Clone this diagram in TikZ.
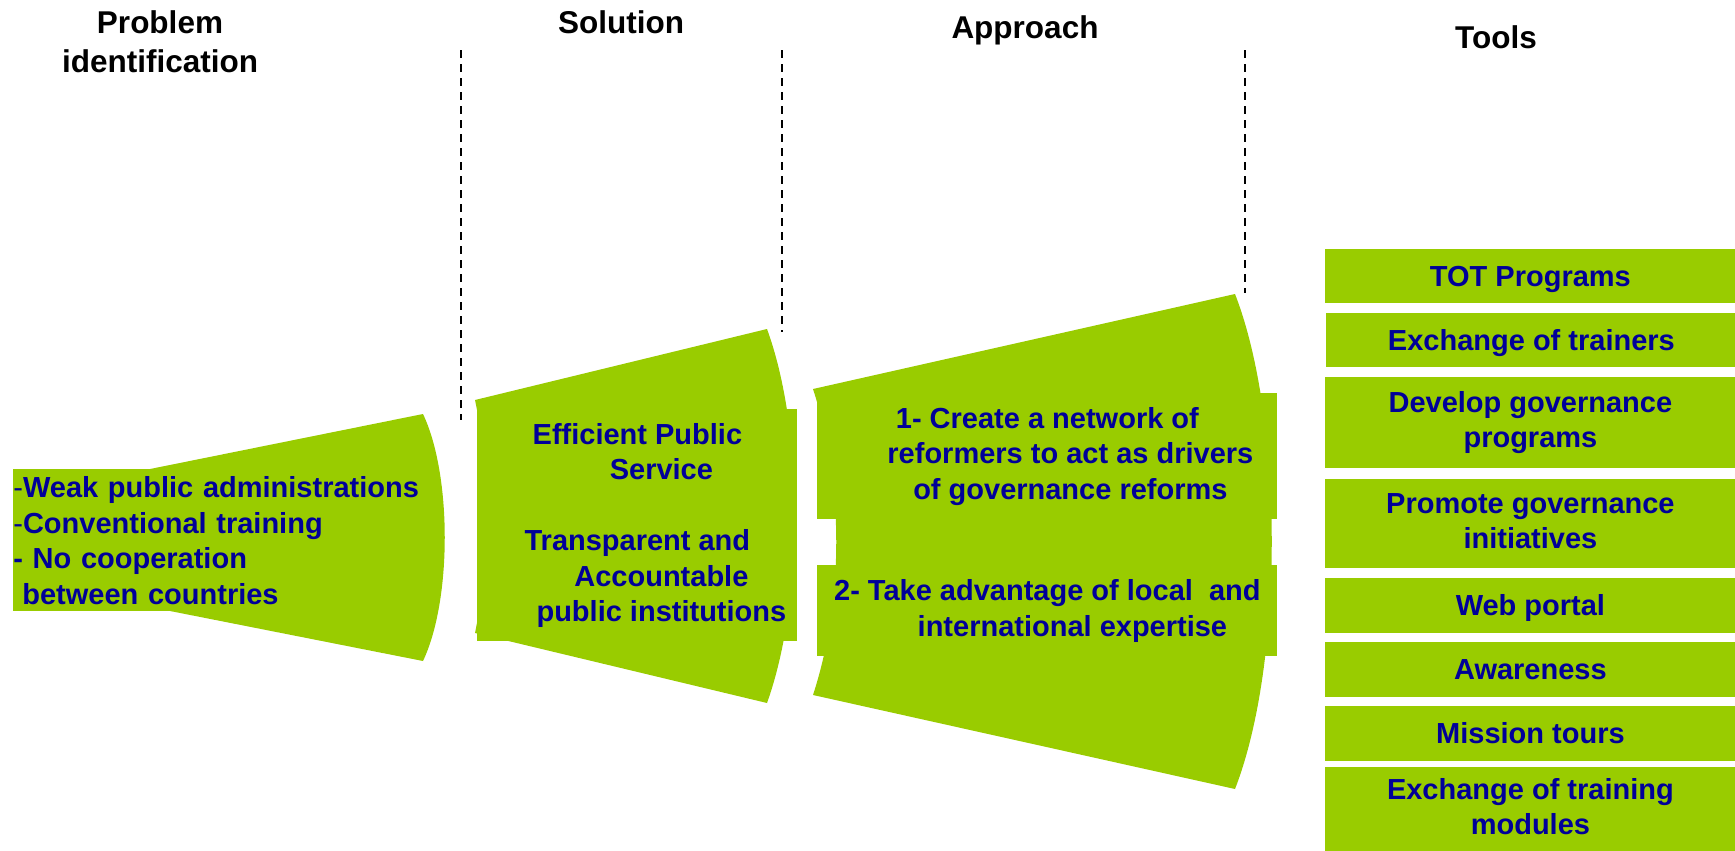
\documentclass[tikz,border=0pt]{standalone}
\usepackage{fontspec}
\setmainfont{Liberation Sans}
\usepackage{tikz}
\usetikzlibrary{positioning,calc}
\usepackage{xcolor}
\definecolor{fangreen}{RGB}{153,204,0}
\definecolor{textblue}{RGB}{0,0,153}

\begin{document}
\begin{tikzpicture}[
    x=0.5pt, y=-0.5pt,
    headtext/.style={
        inner sep=0pt,
        align=center,
        font=\fontsize{15.75}{19.5}\selectfont\bfseries
    },
    greenbox/.style={
        fill=fangreen,
        text=textblue,
        inner sep=0pt,
        anchor=north west,
        font=\fontsize{14.5}{17.75}\selectfont\bfseries
    },
    linestrut/.style={
        execute at begin node={\rule{0pt}{0.905em}},
        execute at end node={\rule[-0.212em]{0pt}{0.212em}}
    },
    toolbox/.style={
        greenbox,
        linestrut,
        align=center,
        minimum width=205pt,
        font=\fontsize{14.5}{17.5}\selectfont\bfseries
    },
    divider/.style={
        line width=0.75pt,
        dash pattern=on 4pt off 3pt
    }
]
\useasboundingbox (0,0) rectangle (1735,851);

% ---------------- Headers ----------------
\node[headtext, anchor=north] (hprob) at (160,10) {Problem\\identification};
\node[headtext, anchor=base] (hsol) at (621,33) {Solution};
\node[headtext, anchor=base] (happ) at (1025,39) {Approach};
\node[headtext, anchor=base] (htools) at (1496,48) {Tools};

% ---------------- Dividers ----------------
\draw[divider] (461,50) -- (461,420);
\draw[divider] (782,50) -- (782,332);
\draw[divider] (1245,50) -- (1245,293);

% ---------------- Fans ----------------
\fill[fangreen] (150,469) -- (423,414)
    .. controls (452,475) and (452,600) .. (423,661)
    -- (170,611) -- cycle;
\fill[fangreen] (475,400) -- (767,329)
    .. controls (804,430) and (804,600) .. (767,703)
    -- (475,633) .. controls (490,560) and (490,470) .. (475,400) -- cycle;
\fill[fangreen] (813,389) -- (1235,294)
    .. controls (1284,420) and (1284,663) .. (1235,789)
    -- (813,695) .. controls (844,600) and (844,484) .. (813,389) -- cycle;

% ---------------- Problem ----------------
\node[greenbox, text width=205pt, align=left, minimum height=71pt]
    (prob) at (13,469)
    {{\mdseries -}Weak public administrations\\
     {\mdseries -}Conventional training\\
     - No cooperation\\
     \hspace*{4.5pt}between countries};

% ---------------- Solution ----------------
\node[greenbox, linestrut, align=center, minimum width=160pt, minimum height=116pt]
    (sol) at (477,409)
    {Efficient Public\\
     \hspace*{24pt}Service\\[17.75pt]
     Transparent and\\
     \hspace*{24pt}Accountable\\
     \hspace*{24pt}public institutions};

% ---------------- Approach ----------------
\node[greenbox, linestrut, align=center, minimum width=230pt, minimum height=63pt]
    (app1) at (817,393)
    {1- Create a network of\\
     \hspace*{23pt}reformers to act as drivers\\
     \hspace*{23pt}of governance reforms};
\node[greenbox, linestrut, align=center, minimum width=230pt, minimum height=45.5pt]
    (app2) at (817,565)
    {2- Take advantage of local~ and\\
     \hspace*{25pt}international expertise};

% ---------------- Tools ----------------
\node[toolbox, minimum height=27pt] (t1) at (1325,249) {TOT Programs};
\node[toolbox, minimum height=27pt] (t2) at (1326,313) {Exchange of trainers};
\node[toolbox, minimum height=45.5pt] (t3) at (1325,377) {Develop governance\\programs};
\node[toolbox, minimum height=44.5pt] (t4) at (1325,479) {Promote governance\\initiatives};
\node[toolbox, minimum height=27.5pt] (t5) at (1325,578) {Web portal};
\node[toolbox, minimum height=27.5pt] (t6) at (1325,642) {Awareness};
\node[toolbox, minimum height=27.5pt] (t7) at (1325,706) {Mission tours};
\node[toolbox, minimum height=42pt] (t8) at (1325,767) {Exchange of training\\modules};

\end{tikzpicture}
\end{document}
